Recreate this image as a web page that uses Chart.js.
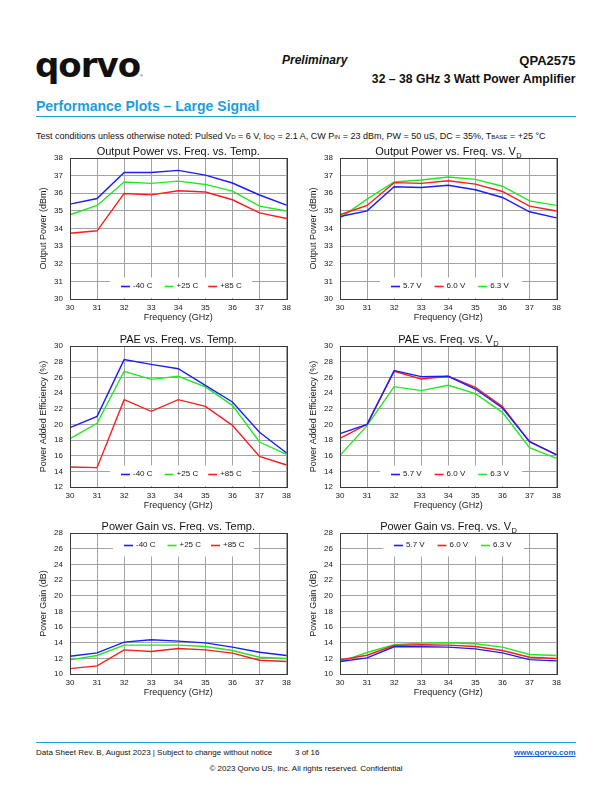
<!DOCTYPE html>
<html><head><meta charset="utf-8">
<script src="https://cdn.jsdelivr.net/npm/chart.js@4.4.1/dist/chart.umd.min.js"></script>
<style>
html,body{margin:0;padding:0;background:#fff;}
body{width:612px;height:792px;position:relative;overflow:hidden;font-family:"Liberation Sans",Arial,Helvetica,sans-serif;color:#111;}
.t{position:absolute;white-space:nowrap;line-height:1;}
.sc{font-size:6px;}
canvas{position:absolute;}
.rule{position:absolute;left:36px;width:540px;height:1px;background:#1a9fdb;}
</style></head><body>
<div class="t" style="left:35px;top:45px;font-family:'DejaVu Sans';font-weight:bold;font-size:34px;letter-spacing:-1px;line-height:40px;">qorvo</div>
<div class="t" style="left:140px;top:74px;font-size:4px;">®</div>
<div class="t" style="left:282px;top:54px;font-size:12px;font-weight:bold;font-style:italic;">Preliminary</div>
<div class="t" style="right:36.5px;top:54.2px;font-size:13px;font-weight:bold;">QPA2575</div>
<div class="t" style="right:36.5px;top:72.7px;font-size:12.2px;font-weight:bold;">32 – 38 GHz 3 Watt Power Amplifier</div>
<div class="t" style="left:36px;top:99.3px;font-size:14px;font-weight:bold;color:#1a9fdb;">Performance Plots – Large Signal</div>
<div class="rule" style="top:116px;"></div>
<div class="t" style="left:36px;top:132px;font-size:9px;">Test conditions unless otherwise noted: Pulsed V<span class="sc">D</span> = 6 V, I<span class="sc">DQ</span> = 2.1 A, CW P<span class="sc">IN</span> = 23 dBm, PW = 50 uS, DC = 35%, T<span class="sc">BASE</span> = +25 °C</div>

<canvas id="c1" width="265" height="190" style="left:30px;top:140px;"></canvas>
<canvas id="c2" width="265" height="190" style="left:300px;top:140px;"></canvas>
<canvas id="c3" width="265" height="190" style="left:30px;top:328px;"></canvas>
<canvas id="c4" width="265" height="190" style="left:300px;top:328px;"></canvas>
<canvas id="c5" width="265" height="190" style="left:30px;top:515px;"></canvas>
<canvas id="c6" width="265" height="190" style="left:300px;top:515px;"></canvas>

<div class="rule" style="top:742px;"></div>
<div class="t" style="left:36px;top:749.2px;font-size:8px;">Data Sheet Rev. B, August 2023 | Subject to change without notice</div>
<div class="t" style="left:295px;top:749.2px;font-size:8px;">3 of 16</div>
<div class="t" style="right:36.5px;top:749.2px;font-size:8px;font-weight:bold;color:#1a5fd0;text-decoration:underline;">www.qorvo.com</div>
<div class="t" style="left:0;width:612px;text-align:center;top:764.6px;font-size:8px;">© 2023 Qorvo US, Inc. All rights reserved. Confidential</div>

<script>
// ---- data ----
const freq = ['30','31','32','33','34','35','36','37','38'];
const tempLabels = ['-40 C','+25 C','+85 C'];
const vdLabels = ['5.7 V','6.0 V','6.3 V'];

const poutTm40 = [35.38,35.70,37.18,37.18,37.30,37.03,36.58,35.90,35.33];
const poutT25  = [34.78,35.31,36.64,36.56,36.69,36.50,36.12,35.27,34.99];
const poutT85  = [33.73,33.87,35.99,35.91,36.14,36.07,35.63,34.89,34.57];

const poutV57 = [34.68,35.00,36.37,36.33,36.45,36.20,35.76,34.95,34.60];
const poutV60 = [34.78,35.31,36.60,36.56,36.71,36.52,36.10,35.27,34.99];
const poutV63 = [34.59,35.67,36.64,36.75,36.92,36.79,36.40,35.57,35.31];

const paeTm40 = [19.57,21.02,28.26,27.66,27.10,24.98,22.85,18.98,16.34];
const paeT25  = [18.17,20.13,26.77,25.74,26.13,24.77,22.43,17.74,16.17];
const paeT85  = [14.55,14.47,23.15,21.66,23.15,22.30,19.87,15.91,14.81];

const paeV57 = [18.81,20.00,26.85,26.09,26.13,24.51,22.09,17.83,16.09];
const paeV60 = [18.21,20.00,26.77,25.79,26.13,24.72,22.26,17.74,16.13];
const paeV63 = [16.04,19.83,24.81,24.30,24.98,23.91,21.53,17.02,15.66];

const gainTm40 = [12.27,12.70,14.07,14.37,14.20,13.98,13.43,12.78,12.36];
const gainT25  = [11.80,12.36,13.68,13.68,13.68,13.51,13.00,12.14,11.97];
const gainT85  = [10.68,11.03,13.08,12.87,13.26,13.08,12.66,11.76,11.59];

const gainV57 = [11.59,12.06,13.47,13.47,13.43,13.21,12.70,11.84,11.67];
const gainV60 = [11.80,12.40,13.64,13.73,13.68,13.51,13.00,12.14,11.97];
const gainV63 = [11.54,12.74,13.73,13.94,13.98,13.86,13.43,12.49,12.36];

// ---- styling ----
const BLUE='#1c1cff', GREEN='#22e822', RED='#ff1c1c';
const FONT='"Liberation Sans", Arial, Helvetica, sans-serif';
const GRID='#a3a3a3';
Chart.defaults.font.family = FONT;
Chart.defaults.color = '#1a1a1a';

const pagePlugin = {
  id:'page',
  beforeDatasetsDraw(chart){
    const o = chart.options.plugins.page, a = chart.chartArea, ctx = chart.ctx;
    const top = o.legendTop ? a.top + 1 : a.bottom - o.boxH;
    ctx.save();
    ctx.fillStyle = '#fff';
    ctx.fillRect(a.left + o.boxL, top, o.boxR - o.boxL, o.boxH - 1);
    ctx.restore();
  },
  afterDatasetsDraw(chart){
    const o = chart.options.plugins.page, a = chart.chartArea, ctx = chart.ctx;
    ctx.save();
    // legend items
    const cy = o.legendTop ? a.top + o.itemOff : a.bottom - o.itemOff;
    ctx.font = '8px ' + FONT;
    ctx.textBaseline = 'middle';
    ctx.textAlign = 'left';
    chart.data.datasets.forEach((ds, i) => {
      const x0 = a.left + o.itemStart + i * o.itemStep;
      ctx.strokeStyle = ds.borderColor;
      ctx.lineWidth = 1.6;
      ctx.beginPath();
      ctx.moveTo(x0, Math.round(cy) + 0.5);
      ctx.lineTo(x0 + 9, Math.round(cy) + 0.5);
      ctx.stroke();
      ctx.fillStyle = '#1a1a1a';
      ctx.fillText(ds.label, x0 + 12, cy + 0.5);
    });
    // frame
    ctx.strokeStyle = '#3a3a3a';
    ctx.lineWidth = 1;
    ctx.strokeRect(Math.round(a.left) + 0.5, Math.round(a.top) + 0.5,
                   Math.round(a.right) - Math.round(a.left), Math.round(a.bottom) - Math.round(a.top));
    // title
    ctx.fillStyle = '#111';
    ctx.textBaseline = 'alphabetic';
    const main = o.title, sub = o.sub || '';
    ctx.font = '11px ' + FONT;
    const wm = ctx.measureText(main).width;
    ctx.font = '7.5px ' + FONT;
    const ws = sub ? ctx.measureText(sub).width : 0;
    const cx = (a.left + a.right) / 2;
    const x = cx - (wm + ws) / 2;
    const by = a.top - 3;
    ctx.font = '11px ' + FONT;
    ctx.fillText(main, x, by);
    if (sub) { ctx.font = '7.5px ' + FONT; ctx.fillText(sub, x + wm + 0.5, by + 2.5); }
    ctx.restore();
  }
};

function makeChart(id, labels, colors, series, yMin, yMax, step, yTitle, title, sub, legendTop){
  const datasets = series.map((d, i) => ({
    label: labels[i], data: d, borderColor: colors[i], backgroundColor: colors[i],
    borderWidth: 1.4, pointRadius: 0, tension: 0, fill: false
  }));
  return new Chart(document.getElementById(id), {
    type: 'line',
    data: { labels: freq, datasets },
    plugins: [pagePlugin],
    options: {
      responsive: false, animation: false, devicePixelRatio: 1,
      layout: { padding: { top: 18, right: 6, left: 0, bottom: 0 } },
      plugins: {
        legend: { display: false }, tooltip: { enabled: false },
        page: legendTop
          ? { title, sub, legendTop: true, boxL: 43, boxR: 184, boxH: 23.5, itemOff: 11.7, itemStart: 54, itemStep: 43.5 }
          : { title, sub, legendTop: false, boxL: 40, boxR: 182, boxH: 21.5, itemOff: 13.3, itemStart: 51, itemStep: 43.6 }
      },
      scales: {
        x: {
          type: 'category', offset: false,
          grid: { color: GRID, lineWidth: 1, drawTicks: false },
          border: { display: false },
          ticks: { padding: 4, font: { size: 8 }, color: '#1a1a1a', maxRotation: 0, autoSkip: false },
          title: { display: true, text: 'Frequency (GHz)', font: { size: 9 }, color: '#1a1a1a', padding: { top: 0, bottom: 7 } },
          afterFit(s) { s.height = 31; }
        },
        y: {
          min: yMin, max: yMax,
          grid: { color: GRID, lineWidth: 1, drawTicks: false },
          border: { display: false },
          ticks: { stepSize: step, padding: 7, font: { size: 8 }, color: '#1a1a1a' },
          title: { display: true, text: yTitle, font: { size: 9 }, color: '#1a1a1a', padding: { top: 8, bottom: 0 } },
          afterFit(s) { s.width = 40; }
        }
      }
    }
  });
}

makeChart('c1', tempLabels, [BLUE, GREEN, RED], [poutTm40, poutT25, poutT85], 30, 38, 1,
  'Output Power (dBm)', 'Output Power vs. Freq. vs. Temp.', '', false);
makeChart('c2', vdLabels, [BLUE, RED, GREEN], [poutV57, poutV60, poutV63], 30, 38, 1,
  'Output Power (dBm)', 'Output Power vs. Freq. vs. V', 'D', false);
makeChart('c3', tempLabels, [BLUE, GREEN, RED], [paeTm40, paeT25, paeT85], 12, 30, 2,
  'Power Added Efficiency (%)', 'PAE vs. Freq. vs. Temp.', '', false);
makeChart('c4', vdLabels, [BLUE, RED, GREEN], [paeV57, paeV60, paeV63], 12, 30, 2,
  'Power Added Efficiency (%)', 'PAE vs. Freq. vs. V', 'D', false);
makeChart('c5', tempLabels, [BLUE, GREEN, RED], [gainTm40, gainT25, gainT85], 10, 28, 2,
  'Power Gain (dB)', 'Power Gain vs. Freq. vs. Temp.', '', true);
makeChart('c6', vdLabels, [BLUE, RED, GREEN], [gainV57, gainV60, gainV63], 10, 28, 2,
  'Power Gain (dB)', 'Power Gain vs. Freq. vs. V', 'D', true);
</script>
</body></html>
